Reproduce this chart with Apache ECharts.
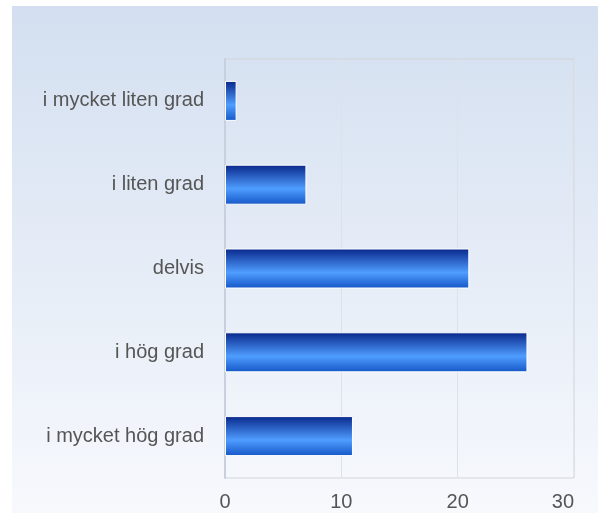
<!DOCTYPE html>
<html>
<head>
<meta charset="utf-8">
<script src="https://cdn.jsdelivr.net/npm/echarts@6/dist/echarts.min.js"></script>
<style>
  html, body { margin: 0; padding: 0; background: #fff; }
  #chart { width: 598px; height: 513px; }
</style>
</head>
<body>
<div id="chart"></div>
<script>
// kategorier, nedifrån och upp
var categories = ['i mycket hög grad', 'i hög grad', 'delvis', 'i liten grad', 'i mycket liten grad'];
var values = [11, 26, 21, 7, 1];
var xTicks = [0, 10, 20, 30];

var myChart = echarts.init(document.getElementById('chart'));

var barColor = new echarts.graphic.LinearGradient(0, 0, 0, 1, [
  { offset: 0, color: '#08268a' },
  { offset: 0.6, color: '#4f9dff' },
  { offset: 1, color: '#1456c6' }
]);

var option = {
  animation: false,
  graphic: [{
    type: 'rect',
    z: -10,
    silent: true,
    shape: { x: 12, y: 6, width: 586, height: 507 },
    style: {
      fill: new echarts.graphic.LinearGradient(0, 0, 0, 1, [
        { offset: 0, color: '#d3dff0' },
        { offset: 1, color: '#f7f9fd' }
      ])
    }
  }],
  grid: {
    left: 225,
    right: 24,
    top: 59,
    bottom: 35,
    show: true,
    borderColor: '#d2d4d8',
    borderWidth: 1,
    backgroundColor: 'transparent'
  },
  xAxis: {
    type: 'value',
    min: 0,
    max: 30,
    interval: 10,
    axisLine: { show: false },
    axisTick: { show: false },
    splitLine: { show: true, lineStyle: { color: '#dde1e8', width: 1 } },
    axisLabel: {
      color: '#555',
      fontFamily: 'Liberation Sans, Arial, sans-serif',
      fontSize: 20,
      margin: 14,
      alignMaxLabel: 'right',
      formatter: function (v) { return xTicks.indexOf(v) >= 0 ? String(v) : ''; }
    }
  },
  yAxis: {
    type: 'category',
    data: categories,
    axisLine: { show: true, lineStyle: { color: '#c8d0de', width: 2 } },
    axisTick: { show: false },
    splitLine: { show: false },
    axisLabel: {
      color: '#555',
      fontFamily: 'Liberation Sans, Arial, sans-serif',
      fontSize: 20,
      margin: 21
    }
  },
  series: [{
    type: 'bar',
    data: values,
    barWidth: 40,
    itemStyle: {
      color: barColor,
      borderColor: '#ffffff',
      borderWidth: 1
    }
  }]
};

myChart.setOption(option);
</script>
</body>
</html>
